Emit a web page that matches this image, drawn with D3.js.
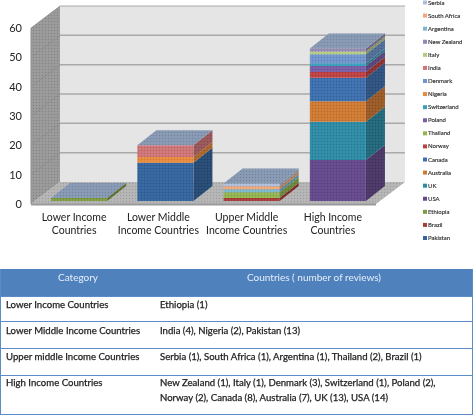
<!DOCTYPE html>
<html><head><meta charset="utf-8">
<style>html,body{margin:0;padding:0;background:#fff}svg{display:block}text{font-family:Lato,"Open Sans",sans-serif}</style>
<script src="https://cdn.jsdelivr.net/npm/d3@7"></script></head>
<body><svg id="c" width="473" height="416"></svg>
<script>
const categories=["Lower Income Countries","Lower Middle Income Countries","Upper Middle Income Countries","High Income Countries"];
const categoryLines=[["Lower Income","Countries"],["Lower Middle","Income Countries"],["Upper Middle","Income Countries"],["High Income","Countries"]];
const seriesNames=["Pakistan","Brazil","Ethiopia","USA","UK","Australia","Canada","Norway","Thailand","Poland","Switzerland","Nigeria","Denmark","India","Italy","New Zealand","Argentina","South Africa","Serbia"];
const pakistan=[0,13,0,0],brazil=[0,0,1,0],ethiopia=[1,0,0,0],usa=[0,0,0,14],uk=[0,0,0,13],australia=[0,0,0,7],canada=[0,0,0,8],norway=[0,0,0,2],thailand=[0,0,2,0],poland=[0,0,0,2],switzerland=[0,0,0,1],nigeria=[0,2,0,0],denmark=[0,0,0,3],india=[0,4,0,0],italy=[0,0,0,1],newZealand=[0,0,0,1],argentina=[0,0,1,0],southAfrica=[0,0,1,0],serbia=[0,0,1,0];
const seriesValues=[pakistan,brazil,ethiopia,usa,uk,australia,canada,norway,thailand,poland,switzerland,nigeria,denmark,india,italy,newZealand,argentina,southAfrica,serbia];
const seriesColors=["#34659f","#a83c38","#7e9c40","#654a8c","#2f8ba6","#cf7a33","#3d6fae","#bf4141","#93b550","#7a5ea6","#38a0bd","#e88a3c","#6f94cd","#cf7577","#b3cb82","#9587b5","#79b9cf","#f1a777","#aebfdc"];
const yTicks=[0,10,20,30,40,50,60];
const tableHeader=["Category","Countries ( number of reviews)"];
const tableCategories=["Lower Income Countries","Lower Middle Income Countries","Upper middle Income Countries","High Income Countries"];
const tableCountries=[["Ethiopia (1)"],["India (4), Nigeria (2), Pakistan (13)"],["Serbia (1), South Africa (1), Argentina (1), Thailand (2), Brazil (1)"],["New Zealand (1), Italy (1), Denmark (3), Switzerland (1), Poland (2),","Norway (2), Canada (8), Australia (7), UK (13), USA (14)"]];

const svg=d3.select("#c");
const defs=svg.append("defs");
const dither=defs.append("pattern").attr("id","dither").attr("width",3).attr("height",3).attr("patternUnits","userSpaceOnUse");
dither.append("rect").attr("width",1).attr("height",1).attr("fill","#000").attr("opacity",.13);
dither.append("rect").attr("x",1.5).attr("y",1.5).attr("width",1).attr("height",1).attr("fill","#fff").attr("opacity",.13);
defs.append("filter").attr("id","soft").append("feGaussianBlur").attr("stdDeviation",.35);
defs.append("filter").attr("id","softer").append("feGaussianBlur").attr("stdDeviation",.28);

const wallDx=29,wallDy=-22,barDx=19,barDy=-15;
const y=d3.scaleLinear().domain([0,60]).range([204,28]);
const x=d3.scaleBand().domain(categories).range([36,381]).paddingInner(.35).paddingOuter(.175);
const poly=(pts,fill)=>svg.append("polygon").attr("points",pts.map(p=>p.join(",")).join(" ")).attr("fill",fill);
const xL=31,xR=376;
// walls and floor
poly([[xL+wallDx,y(60)+wallDy],[xR+wallDx,y(60)+wallDy],[xR+wallDx,y(0)+wallDy],[xL+wallDx,y(0)+wallDy]],"#e5e5e5");
poly([[xL,y(60)],[xL+wallDx,y(60)+wallDy],[xL+wallDx,y(0)+wallDy],[xL,y(0)]],"#989898");
poly([[xL,y(60)],[xL+wallDx,y(60)+wallDy],[xL+wallDx,y(0)+wallDy],[xL,y(0)]],"url(#dither)");
poly([[xL,y(0)],[xL+wallDx,y(0)+wallDy],[xR+wallDx,y(0)+wallDy],[xR,y(0)]],"#b4b4b4");
poly([[xL,y(0)],[xL+wallDx,y(0)+wallDy],[xR+wallDx,y(0)+wallDy],[xR,y(0)]],"url(#dither)");
svg.append("line").attr("x1",xL).attr("x2",xR).attr("y1",y(0)+.5).attr("y2",y(0)+.5).attr("stroke","#9a9a9a").attr("stroke-width",2);
yTicks.forEach(t=>{
  if(t>0)svg.append("line").attr("x1",xL+wallDx).attr("x2",xR+wallDx).attr("y1",y(t)+wallDy).attr("y2",y(t)+wallDy).attr("stroke","#a9a9a9").attr("stroke-width",t==60?1:1.5);
  if(t>0)svg.append("line").attr("x1",xL).attr("x2",xL+wallDx).attr("y1",y(t)).attr("y2",y(t)+wallDy).attr("stroke","#8a8a8a").attr("stroke-width",.7);
});
svg.append("line").attr("x1",xL).attr("x2",xL).attr("y1",y(60)).attr("y2",y(0)).attr("stroke","#8f8f8f");
// axis
const axis=d3.axisLeft(y).tickValues(yTicks).tickSize(0).tickPadding(9);
const ga=svg.append("g").attr("transform",`translate(${xL},0)`).attr("filter","url(#softer)").call(axis);
ga.select(".domain").remove();
ga.selectAll("text").attr("font-size",11).attr("fill","#222").style("font-family","Lato,sans-serif");
// stacks
const rows=categories.map((c,i)=>{const r={cat:c};seriesNames.forEach((s,j)=>r[s]=seriesValues[j][i]);return r;});
const stacked=d3.stack().keys(seriesNames)(rows);
const base=y(0)-3, unit=y(0)-y(1);
const py=v=>base-v*unit;
const bars=svg.append("g").attr("filter","url(#soft)");
function bpoly(pts,fill){bars.append("polygon").attr("points",pts.map(p=>p.join(",")).join(" ")).attr("fill",fill);}
categories.forEach((c,i)=>{
  const x0=x(c),x1=x0+x.bandwidth();
  let top=0;
  stacked.forEach((layer,j)=>{
    const [a,b]=layer[i];
    if(b<=a)return;
    top=Math.max(top,b);
    const col=d3.color(seriesColors[j]);
    bpoly([[x1,py(a)],[x1+barDx,py(a)+barDy],[x1+barDx,py(b)+barDy],[x1,py(b)]],col.darker(.85).formatHex());
    bpoly([[x0,py(a)],[x1,py(a)],[x1,py(b)],[x0,py(b)]],seriesColors[j]);
  });
  bpoly([[x0,py(top)],[x1,py(top)],[x1+barDx,py(top)+barDy],[x0+barDx,py(top)+barDy]],"#8698b2");
  const full=[[x0,py(0)],[x1,py(0)],[x1+barDx,py(0)+barDy],[x1+barDx,py(top)+barDy],[x0+barDx,py(top)+barDy],[x0,py(top)]];
  bpoly(full,"url(#dither)");
});
// category labels
const labels=svg.append("g").attr("filter","url(#softer)");
const labelShift=[-5,-7,-5,-5];
categories.forEach((c,i)=>{
  categoryLines[i].forEach((l,k)=>labels.append("text").attr("x",x(c)+x.bandwidth()/2+labelShift[i]).attr("y",221+k*12.6).attr("text-anchor","middle").attr("font-size",10.5).attr("fill","#222").text(l));
});
// legend
const ly=d3.scalePoint().domain(seriesNames).range([238,2.5]);
const leg=svg.append("g").attr("filter","url(#soft)");
seriesNames.forEach((s,j)=>{
  leg.append("rect").attr("x",423).attr("y",ly(s)-2).attr("width",4).attr("height",4).attr("fill",seriesColors[j]);
  leg.append("text").attr("x",428).attr("y",ly(s)+2).attr("font-size",6).attr("stroke","#333").attr("stroke-width",.15).attr("fill","#333").text(s);
});
// table
const rowLines=[296,321,348,375,414];
svg.append("rect").attr("x",0).attr("y",269).attr("width",473).attr("height",27).attr("fill","#4f81bd");
const tbl=svg.append("g").attr("filter","url(#softer)");
tbl.append("text").attr("x",78).attr("y",281).attr("text-anchor","middle").attr("font-size",10).attr("fill","#e6eef8").text(tableHeader[0]);
tbl.append("text").attr("x",314).attr("y",281).attr("text-anchor","middle").attr("font-size",10).attr("fill","#e6eef8").text(tableHeader[1]);
rowLines.forEach(v=>svg.append("line").attr("x1",0).attr("x2",473).attr("y1",v+.5).attr("y2",v+.5).attr("stroke","#5b8cc8").attr("stroke-width",1.2));
svg.append("line").attr("x1",.5).attr("x2",.5).attr("y1",269).attr("y2",415).attr("stroke","#5b8cc8");
svg.append("line").attr("x1",472.5).attr("x2",472.5).attr("y1",269).attr("y2",415).attr("stroke","#5b8cc8");
const rowBaseline=[308,333.5,360,385.5];
const cellText=(sel,xp,yp,t)=>sel.append("text").attr("x",xp).attr("y",yp).attr("font-size",9.6).attr("stroke","#222").attr("stroke-width",.25).attr("fill","#222").text(t);
tableCategories.forEach((t,i)=>{
  const by=rowBaseline[i];
  cellText(tbl,6,by,t);
  tableCountries[i].forEach((l,k)=>cellText(tbl,160,by+k*15,l));
});
</script></body></html>
